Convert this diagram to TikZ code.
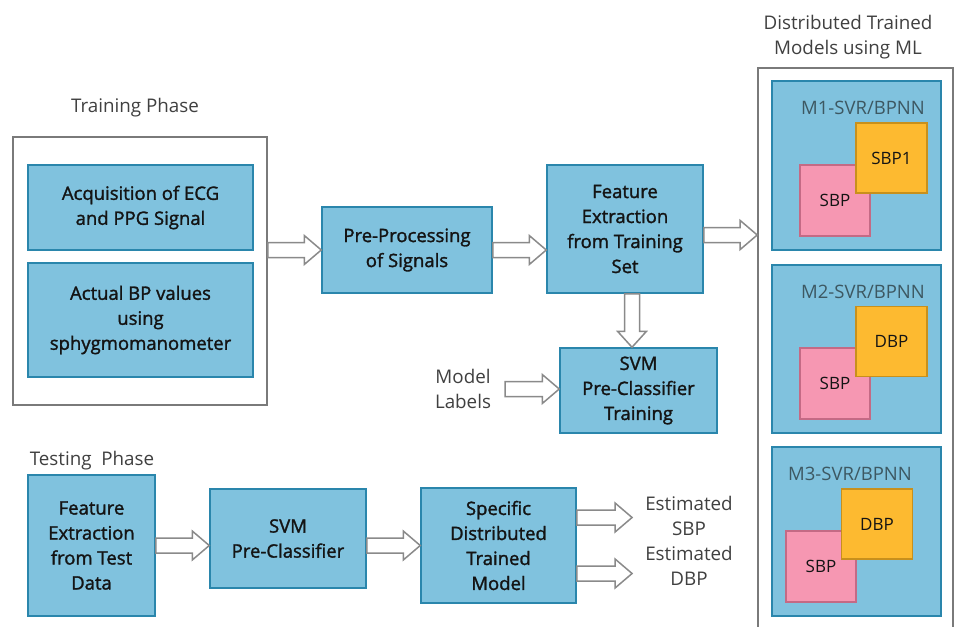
\documentclass[tikz,border=0pt]{standalone}
\usepackage{fontspec}
\setmainfont{Open Sans}
\newfontfamily\boxfont{Open Sans}[FakeBold=1.5]
\usetikzlibrary{calc}
\definecolor{boxfill}{HTML}{80C2DE}
\definecolor{boxline}{HTML}{2A86AC}
\definecolor{orfill}{HTML}{FDBA30}
\definecolor{orline}{HTML}{C8901C}
\definecolor{pkfill}{HTML}{F697B2}
\definecolor{pkline}{HTML}{C46A85}
\definecolor{framegray}{HTML}{7A7A7A}
\definecolor{arrgray}{HTML}{8A8A8A}
\definecolor{labgray}{HTML}{404040}
\definecolor{mlab}{HTML}{3D5862}
\definecolor{txt}{HTML}{141414}
\tikzset{
  bluebox/.style={draw=boxline, fill=boxfill, line width=1.5pt, align=center, inner sep=0pt,
    font=\boxfont\fontsize{18.5}{25}\selectfont, text=txt},
  frame/.style={draw=framegray, line width=1.6pt, inner sep=0pt},
  modelbox/.style={draw=boxline, fill=boxfill, line width=1.5pt, inner sep=0pt,
    minimum width=169pt, minimum height=169pt},
  orbox/.style={draw=orline, fill=orfill, line width=1.3pt, inner sep=0pt,
    minimum width=71pt, minimum height=70pt, font=\fontsize{17}{20}\selectfont, text=txt},
  pkbox/.style={draw=pkline, fill=pkfill, line width=1.3pt, inner sep=0pt,
    minimum width=70pt, minimum height=71pt, font=\fontsize{17}{20}\selectfont, text=txt},
  mlabel/.style={font=\fontsize{18.5}{20}\selectfont, text=mlab, inner sep=0pt},
  plainlabel/.style={font=\fontsize{18.8}{25}\selectfont, text=labgray, align=center, inner sep=0pt},
  blockarrow/.style={draw=arrgray, fill=white, line width=1.5pt, line join=miter},
}
\newcommand\hblock[2]{\draw[blockarrow] let \p1=#1, \p2=#2 in
  (\x1,\y1+7.5pt) -- (\x2-17pt,\y1+7.5pt) -- (\x2-17pt,\y1+14.5pt) -- (\x2,\y1) --
  (\x2-17pt,\y1-14.5pt) -- (\x2-17pt,\y1-7.5pt) -- (\x1,\y1-7.5pt) -- cycle;}
\newcommand\vblock[2]{\draw[blockarrow] let \p1=#1, \p2=#2 in
  (\x1+7.5pt,\y1) -- (\x1+7.5pt,\y2+16pt) -- (\x1+14.5pt,\y2+16pt) -- (\x1,\y2) --
  (\x1-14.5pt,\y2+16pt) -- (\x1-7.5pt,\y2+16pt) -- (\x1-7.5pt,\y1) -- cycle;}
\begin{document}
\begin{tikzpicture}[x=1pt,y=-1pt]
\useasboundingbox (0,0) rectangle (955,626);
\clip (0,0) rectangle (955,626);
\fill[white] (0,0) rectangle (955,626);

% Training phase
\node[plainlabel] (trainlab) at (135,108) {Training Phase};
\node[frame, minimum width=254pt, minimum height=268pt] (train) at (140,271) {};
\node[bluebox, minimum width=225pt, minimum height=85pt] (acq) at (140.5,207.5)
  {Acquisition of ECG\\and PPG Signal};
\node[bluebox, minimum width=225pt, minimum height=114pt] (bp) at (140.5,320)
  {Actual BP values\\using\\sphygmomanometer};

\node[bluebox, minimum width=170pt, minimum height=86pt] (pre) at (407,250)
  {Pre-Processing\\of Signals};
\node[bluebox, minimum width=156pt, minimum height=128pt] (feat) at (625,229)
  {Feature\\Extraction\\from Training\\Set};
\node[bluebox, minimum width=157pt, minimum height=85pt] (svmt) at (638.5,390.5)
  {SVM\\Pre-Classifier\\Training};
\node[plainlabel] (labels) at (463,389) {Model\\Labels};

% Distributed models
\node[plainlabel] (distlab) at (848,37.5) {Distributed Trained\\Models using ML};
\node[frame, minimum width=195pt, minimum height=620pt] (dist) at (855.5,378) {};
\node[modelbox] (m1) at (856.5,165.5) {};
\node[mlabel] (m1lab) at (863,108) {M1-SVR/BPNN};
\node[pkbox] (m1s) at (835,200.5) {SBP};
\node[orbox] (m1o) at (891.5,158) {SBP1};

\node[modelbox, minimum height=168pt] (m2) at (856.5,349) {};
\node[mlabel] (m2lab) at (863,292) {M2-SVR/BPNN};
\node[pkbox] (m2s) at (835,383.5) {SBP};
\node[orbox] (m2o) at (891.5,341.5) {DBP};

\node[modelbox] (m3) at (856.5,531.5) {};
\node[mlabel] (m3lab) at (850,474) {M3-SVR/BPNN};
\node[pkbox] (m3s) at (821,566.5) {SBP};
\node[orbox] (m3o) at (877,524) {DBP};

% Testing phase
\node[plainlabel] (testlab) at (92,461) {Testing\ \ Phase};
\node[bluebox, minimum width=127pt, minimum height=141pt] (tf) at (91.5,545.5)
  {Feature\\Extraction\\from Test\\Data};
\node[bluebox, minimum width=156pt, minimum height=99pt] (svm) at (288,538.5)
  {SVM\\Pre-Classifier};
\node[bluebox, minimum width=155pt, minimum height=115pt] (spec) at (498.5,545.5)
  {Specific\\Distributed\\Trained\\Model};
\node[plainlabel] (esbp) at (689,515.5) {Estimated\\SBP};
\node[plainlabel] (edbp) at (689,565.5) {Estimated\\DBP};

% Arrows
\hblock{(train.east |- pre.west)}{(pre.west)}
\hblock{(pre.east)}{(feat.west |- pre.east)}
\coordinate (fo) at ($(feat.east)+(0,6)$);
\hblock{(fo)}{(dist.west |- fo)}
\coordinate (fd) at ($(feat.south)+(7,0)$);
\vblock{(fd)}{(svmt.north -| fd)}
\coordinate (ls) at ($(labels.east)+(14,0)$);
\hblock{(ls)}{(svmt.west |- ls)}
\hblock{(tf.east |- spec.west)}{(svm.west |- spec.west)}
\hblock{(svm.east |- spec.west)}{(spec.west)}
\coordinate (s1) at ($(spec.east)+(0,-28)$);
\coordinate (s2) at ($(spec.east)+(0,28)$);
\hblock{(s1)}{($(esbp.west |- s1)+(-13,0)$)}
\hblock{(s2)}{($(edbp.west |- s2)+(-13,0)$)}
\end{tikzpicture}
\end{document}
